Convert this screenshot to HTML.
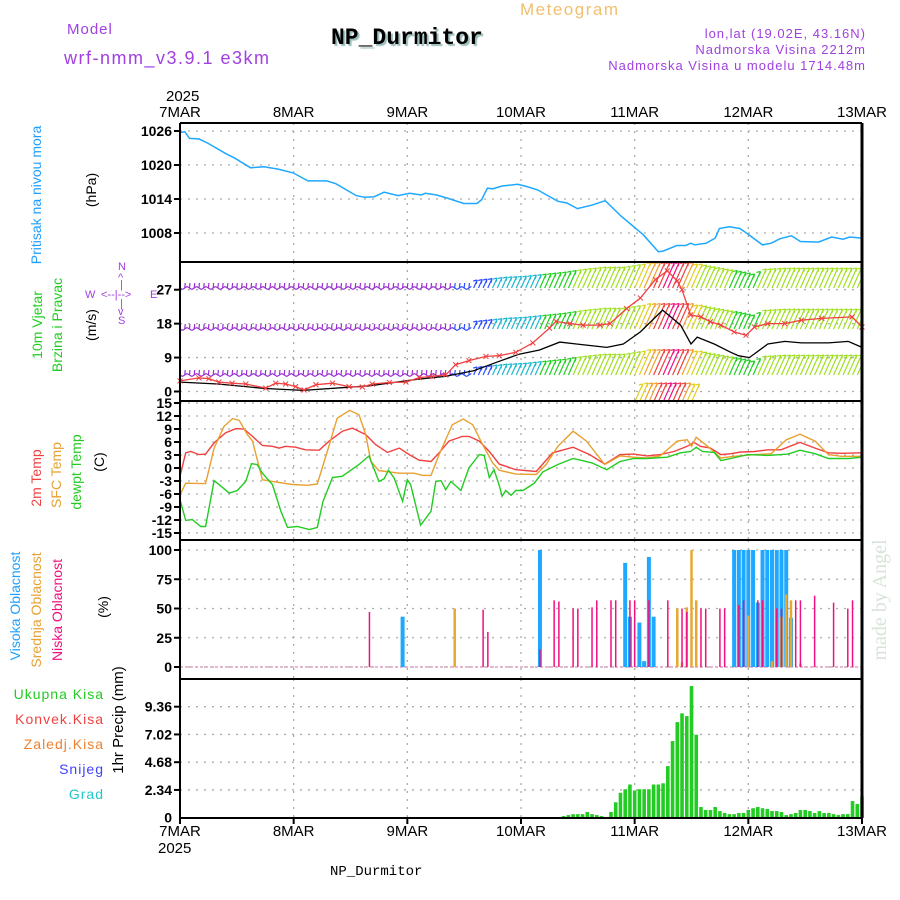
<!DOCTYPE html>
<html><head><meta charset="utf-8"><style>
body{margin:0;background:#fff;width:900px;height:900px;overflow:hidden}
svg{display:block}
text{font-family:"Liberation Sans",sans-serif}
</style></head><body>
<svg id="c" width="900" height="900" xmlns="http://www.w3.org/2000/svg">
<g font-size="15">
<text x="67" y="34" fill="#a040e0" letter-spacing="1">Model</text>
<text x="64" y="64" fill="#a040e0" font-size="18" letter-spacing="1.5">wrf-nmm_v3.9.1 e3km</text>
<text x="520" y="15" fill="#f0c070" font-size="17" letter-spacing="1.5">Meteogram</text>
<text x="331" y="44" style="font-family:'Liberation Mono',monospace;text-shadow:2px 2px 1px #9bb" font-weight="bold" font-size="23" fill="#000">NP_Durmitor</text>
<text x="866" y="38" text-anchor="end" fill="#a040e0" font-size="13" letter-spacing="1">lon,lat (19.02E, 43.16N)</text>
<text x="866" y="54" text-anchor="end" fill="#a040e0" font-size="13" letter-spacing="1">Nadmorska Visina 2212m</text>
<text x="866" y="70" text-anchor="end" fill="#a040e0" font-size="13" letter-spacing="1">Nadmorska Visina u modelu 1714.48m</text>
<text x="166" y="101" font-size="15">2025</text>
</g>
<g id="grid"></g>
<g id="marks"></g>
<g id="frame"></g>
<g font-size="14">
<text transform="translate(41,195) rotate(-90)" text-anchor="middle" fill="#1e9fff">Pritisak na nivou mora</text>
<text transform="translate(96,190) rotate(-90)" text-anchor="middle" fill="#000">(hPa)</text>
<text transform="translate(42,325) rotate(-90)" text-anchor="middle" fill="#22cc22">10m Vjetar</text>
<text transform="translate(62,325) rotate(-90)" text-anchor="middle" fill="#22cc22">Brzina i Pravac</text>
<text transform="translate(96,325) rotate(-90)" text-anchor="middle" fill="#000">(m/s)</text>
<g fill="#a040e0" font-size="11">
<text x="118" y="270">N</text><text x="118" y="281">^</text><text x="120" y="288">|</text>
<text x="85" y="298">W</text><text x="101" y="298">&lt;--|--&gt;</text><text x="150" y="298">E</text>
<text x="120" y="307">|</text><text x="118" y="315">v</text><text x="118" y="324">S</text>
</g>
<text transform="translate(41,478) rotate(-90)" text-anchor="middle" fill="#f04040">2m Temp</text>
<text transform="translate(61,475) rotate(-90)" text-anchor="middle" fill="#e8a030">SFC Temp</text>
<text transform="translate(81,472) rotate(-90)" text-anchor="middle" fill="#22cc22">dewpt Temp</text>
<text transform="translate(104,462) rotate(-90)" text-anchor="middle" fill="#000">(C)</text>
<text transform="translate(20,606) rotate(-90)" text-anchor="middle" fill="#1e9fff">Visoka Oblacnost</text>
<text transform="translate(41,610) rotate(-90)" text-anchor="middle" fill="#e8a030">Srednja Oblacnost</text>
<text transform="translate(62,610) rotate(-90)" text-anchor="middle" fill="#f01080">Niska Oblacnost</text>
<text transform="translate(108,607) rotate(-90)" text-anchor="middle" fill="#000">(%)</text>
<g text-anchor="end" font-size="14" letter-spacing="1">
<text x="104" y="699" fill="#22cc22">Ukupna  Kisa</text>
<text x="104" y="724" fill="#f04040">Konvek.Kisa</text>
<text x="104" y="749" fill="#f08030">Zaledj.Kisa</text>
<text x="104" y="774" fill="#4040ff">Snijeg</text>
<text x="104" y="799" fill="#20c8c8">Grad</text>
</g>
<text transform="translate(123,720) rotate(-90)" text-anchor="middle" fill="#000" font-size="15">1hr Precip (mm)</text>
</g>
<text transform="translate(886,600) rotate(-90)" text-anchor="middle" fill="#d8e4d8" style="font-family:'Liberation Serif',serif" font-size="20">made by Angel</text>
<text x="330" y="875" style="font-family:'Liberation Mono',monospace" font-size="14">NP_Durmitor</text>
<text x="158" y="853" font-size="15">2025</text>
</svg>
<script>
const dayLabels=["7MAR","8MAR","9MAR","10MAR","11MAR","12MAR","13MAR"];
const pTicks=[1008,1014,1020,1026];
const wTicks=[0,9,18,27];
const tTicks=[15,12,9,6,3,0,-3,-6,-9,-12,-15];
const cTicks=[0,25,50,75,100];
const rTicks=[2.34,4.68,7.02,9.36];
const pHours=[0,1,2,4,6,9.7,11.6,14.9,17.7,20.6,23.9,27,31,32.9,37.2,39,41,43.1,46,48.5,50.9,51.8,54.2,56.6,59.9,62.7,63.7,64.9,66,68,71.3,73.2,75.5,79.8,81.7,83.9,86.9,89.8,93.1,97.8,101,102,104.9,106.8,107.8,108.7,111.1,113,113.9,116,118.2,119.6,123,124.8,126.7,129.1,131,134.8,137.6,140,141.4,144];
const pressure=[1025.7,1025.9,1024.7,1024.6,1023.8,1022,1021.2,1019.5,1019.7,1019.3,1018.6,1017.2,1017.2,1016.7,1014.6,1014.3,1014.4,1015.2,1014.6,1015,1014.7,1015,1014.7,1014.1,1013.2,1013.2,1013.9,1015.9,1015.8,1016.3,1016.6,1016.2,1015.6,1013.6,1013.3,1012.3,1012.9,1013.7,1011,1007.7,1004.7,1004.8,1005.8,1005.8,1006.2,1005.9,1006.2,1007.1,1008.8,1009.1,1008.8,1008,1005.9,1006.2,1007,1007.5,1006.5,1006.4,1007.3,1006.9,1007.3,1007.1];
const gustHours=[0,4,6.1,8.2,11,13.9,18.1,20.2,22.3,24.4,26.2,28.7,32.2,35.7,38.5,40.6,44.2,47.7,50.5,53.3,56.1,58.2,61,64.6,67.4,70.9,74.5,78,79.4,82.3,85.1,88.7,90.8,94.3,97.2,100.4,102.9,105,106,107.8,110,112,114.2,117,119.5,121.3,124.1,127.7,131.2,135.5,141.9,144];
const gust=[2.8,3.6,3.4,2.5,2.2,2,0.9,2.2,2,1.3,0.4,1.8,2.2,1.3,1.2,2,2.4,2.5,3.7,4,4.4,7.1,8.2,9.3,9.5,10.4,12.9,16.8,18.6,18,17.6,17.6,18,22,24.8,29.7,32,29.3,27,20.3,19.8,18.5,17.6,15.8,14.9,17.1,18,18,18.9,19.4,19.8,17.1];
const spdHours=[0,8,18,26,40,50,56,62,67.4,71.6,75.9,80.2,83.7,90.1,93.6,97.2,101.9,105.7,107.9,109.2,112.8,116.3,117.9,120.2,124.1,127.7,131.2,136.9,141.1,144];
const speed=[2.5,2,0.8,0.3,1.5,3.2,4,5.5,8,9.9,11,13.1,12.6,11.7,12.6,15.8,21.6,17.6,12.6,14.4,12.6,10.4,9.5,9,12.6,13.3,12.9,12.9,13.3,11.7];
const barbHours=[0,12,24,36,48,56,60,64,68,72,76,80,84,88,92,96,100,103,106,107,108,110,114,118,120,122,126,130,136,144];
const barbSpeed=[2,2,1.5,1.5,2,2.5,3.5,4.5,5.5,6,7,8,9.5,10.5,10.5,12,17,22,15,12,12,11,9.5,8,7,9.5,10,10,10,10];
const tHours=[0,1.2,2.3,4,5.4,7.2,9.6,11.8,13.5,15.3,17.4,19.5,20.9,22.3,24.4,26.5,29.4,31.5,34.3,36.4,39.2,41.3,43.8,46.3,48.4,50.5,53,54.7,56.8,59.6,61,63.2,65.3,67.4,70.9,75.2,78.7,83,86.5,89.7,92.9,95.8,98.6,101.4,104.3,107.1,108.5,109.9,112,114.2,116.3,118.5,121.3,124.1,126.9,130.9,134.1,136.9,139.7,144];
const temp2m=[-1.9,3.5,3.8,3.1,3.2,5.8,8.1,9.1,9,7.3,5.2,5,4.6,5,4.8,4.2,4.1,6.2,8.5,9.2,7.7,5.4,3.6,4.6,3.1,1.8,1.5,3.5,6.2,7.3,7.3,6.2,3.8,0.9,-0.4,-0.8,3.5,4.8,3.1,0.9,3.1,3.2,2.8,3.1,3.8,5,5.9,5,4.6,3.1,3.3,3.7,3.8,4.2,4.2,5.9,4.6,3.5,3.4,3.5];
const sHours=[0,1.2,4.7,5.4,7.2,9.3,11.1,12.5,14.2,15.3,17.4,19.5,23.7,26.9,29,31.1,33.2,35.8,37.8,39.2,40.3,42,46.3,49.4,51.2,53,54.7,57.5,59.8,61.8,63.9,66,67.4,70.9,75.2,77.3,79.8,83,85.8,89.7,92.9,95.8,98.6,101.4,105,107.1,108,109,111.4,114.2,117,121.3,124.8,128,130.9,134.1,136.9,139.7,144];
const tempSfc=[-6.2,-3.5,-3.6,-3.6,4.6,9.6,11.4,11,7.7,6.2,-2.7,-3.1,-3.8,-4,-3.7,3.8,11.5,13.3,12.3,7.7,1.5,-0.6,-1.2,-1.2,-1.7,-1.7,3.1,10,11.3,10,5.4,1.2,-0.5,-1.4,-1.5,0.8,5,8.5,6.2,0.8,2.8,2.5,2.3,2.8,6.2,6.5,5,7.1,5,2.3,2.7,3.1,3.3,6.5,7.8,6.2,3.1,2.7,2.7];
const dHours=[0,1.2,2.6,4.4,5.4,7.2,10.4,12.1,13.9,15.1,16.3,17.4,19.5,21.3,22.7,24.8,27.3,29,30.2,32.2,34.3,37.8,39.9,42,43.1,44,45.2,47,48,48.7,50.8,53,54,55.1,56.1,57.2,59.3,61,63.2,64.2,65.3,66.3,67.4,68,68.8,69.9,70.9,72.4,74.8,76.6,79.8,83,86.9,90.1,92.9,95.8,98.6,102.9,105.7,107.8,109,110.3,112.8,114.2,116.3,119.9,124.1,128.4,130.9,134.1,136.9,141.2,144];
const dewpt=[-7.3,-12.1,-11.9,-13.5,-13.5,-2.9,-5.8,-5.2,-3.1,1,0.8,-1.2,-3.8,-10,-13.7,-13.5,-14.2,-13.7,-7.7,-2.2,-1.9,0.8,2.8,-3.1,-2.5,-0.5,-2.3,-7.7,-2.7,-3.8,-13.2,-10,-3.1,-2.9,-5,-3.1,-5.2,0,3.1,2.9,-2.2,-0.4,-4,-6.5,-5.2,-6.3,-5.2,-5.2,-3.5,-0.9,0.8,2.2,1.2,-0.4,1.5,2.2,2.2,2.5,3.5,3.8,4.8,3.8,3.6,1.7,2.2,3.1,2.9,3.2,4.1,3.3,2.2,2.2,2.5];
const highHours=[47,76,94,95,97,98,99,100,117,118,119,120,121,122,123,124,125,126,127,128,129];
const highCloud=[43,100,89,43,38,5,94,43,100,100,100,100,100,55,100,100,100,100,100,100,42];
const midHours=[58,105,106,107,108,109,120,125,127,128,129,131];
const midCloud=[50,50,4,51,100,57,44,5,43,62,57,3];
const lowHours=[40,64,65,76,79,80,83,84,87,88,91,92,95,96,99,103,106,107,110,111,114,115,118,119,122,123,126,127,130,131,134,138,141,142];
const lowCloud=[47,49,30,15,57,56,50,50,51,57,57,57,57,57,57,57,50,47,50,50,50,50,53,57,57,57,50,50,57,57,61,55,50,57];
const precipHours=[81,82,83,84,85,86,87,88,89,90,91,92,93,94,95,96,97,98,99,100,101,102,103,104,105,106,107,108,109,110,111,112,113,114,115,116,117,118,119,120,121,122,123,124,125,126,127,128,129,130,131,132,133,134,135,136,137,138,139,140,141,142,143,144];
const precip=[0.14,0.22,0.3,0.3,0.3,0.48,0.3,0.22,0.14,0,0.48,1.3,2.1,2.4,2.8,2.3,2.4,2.4,2.4,2.8,2.8,2.9,4.35,6.46,8.06,8.8,8.57,11.1,7.0,0.9,0.65,0.65,0.9,0.56,0.4,0.3,0.3,0.4,0.4,0.65,0.8,0.9,0.8,0.73,0.56,0.56,0.48,0.22,0.3,0.4,0.65,0.65,0.56,0.4,0.56,0.4,0.4,0.3,0.22,0.3,0.3,1.4,1.15,1.8];

const NS="http://www.w3.org/2000/svg";
const X0=180,X1=862;
const xs=h=>X0+h*(X1-X0)/144;
const yP=v=>131+(1026-v)*34/6;
const yW=v=>391.5-v*3.77;
const yT=v=>468-v*4.333;
const yC=v=>667-v*1.17;
const yR=v=>817.7-v*11.86;
const panels=[[123,262],[262,401],[401,540],[540,679],[679,818]];
function el(parent,tag,attrs){const e=document.createElementNS(NS,tag);for(const k in attrs)e.setAttribute(k,attrs[k]);parent.appendChild(e);return e;}
const grid=document.getElementById('grid'),marks=document.getElementById('marks'),frame=document.getElementById('frame');
const dot={stroke:"#aaa","stroke-width":1.3,"stroke-dasharray":"2 6"};
dayLabels.forEach((d,i)=>{const x=xs(i*24);
 panels.forEach(p=>{const l=el(grid,'line',Object.assign({x1:x,x2:x,y1:p[0],y2:p[1]},dot));});
 const t=el(frame,'text',{x:x,y:117,"text-anchor":"middle","font-size":15});t.textContent=d;
 
 const b=el(frame,'text',{x:x,y:836,"text-anchor":"middle","font-size":15});b.textContent=d;
 
 el(frame,'line',{x1:x,x2:x,y1:818,y2:824,stroke:"#000","stroke-width":2});
});
function yTicks(arr,f,fmt){arr.forEach(v=>{const y=f(v);
 const g=el(grid,'line',Object.assign({x1:X0,x2:X1,y1:y,y2:y},dot));
 el(frame,'line',{x1:X0-6,x2:X0,y1:y,y2:y,stroke:"#000","stroke-width":2});
 const t=el(frame,'text',{x:X0-8,y:y+5,"text-anchor":"end","font-size":14,"font-weight":"bold"});t.textContent=fmt?fmt(v):v;
 });}
yTicks(pTicks,yP);yTicks(wTicks,yW);yTicks(tTicks,yT);yTicks(cTicks,yC);yTicks(rTicks,yR,v=>v.toFixed(2));
{const t=el(frame,'text',{x:X0-8,y:yR(0)+5,"text-anchor":"end","font-size":14,"font-weight":"bold"});t.textContent="0";}
function line(hs,vs,f,color,name,w){const d=hs.map((h,i)=>(i?'L':'M')+xs(h).toFixed(1)+','+f(vs[i]).toFixed(1)).join('');
 const p=el(marks,'path',{d:d,fill:"none",stroke:color,"stroke-width":w||1.4});return p;}
line(pHours,pressure,yP,"#1ea8ff","pressure-line",1.5);
function interp(hs,vs,h){for(let i=1;i<hs.length;i++){if(h<=hs[i]){const t=(h-hs[i-1])/(hs[i]-hs[i-1]);return vs[i-1]+t*(vs[i]-vs[i-1]);}}return vs[vs.length-1];}
const cstops=[[0,[155,48,208]],[3,[48,80,255]],[5,[32,184,208]],[7,[32,208,32]],[9,[160,224,32]],[12,[224,208,32]],[14,[240,160,48]],[17,[240,64,64]],[20,[240,16,128]]];
function col(s){let c=cstops[0][1];for(const st of cstops)if(s>=st[0])c=st[1];return 'rgb('+c.join(',')+')';}
const cp=el(marks,'clipPath',{id:'wclip'});el(cp,'rect',{x:X0,y:262,width:X1-X0,height:139});
const wg=el(marks,'g',{"clip-path":"url(#wclip)"});
const rows=[[288,1.0],[329,1.0],[375,1.0],[402,0.75]];
for(let h=0;h<=144;h++){const s=interp(barbHours,barbSpeed,h);const x=xs(h);const c=col(s);
 rows.forEach((r,ri)=>{
  if(ri===3&&s<12)return;
  if(s<4){const dy=(h%2)?3:-3;const b=el(wg,'path',{d:`M${x-2.4},${r[0]+dy/2}L${x+2.4},${r[0]-dy/2}M${x},${r[0]}L${x+0.5},${r[0]-5}`,stroke:c,"stroke-width":1.2,fill:"none"});return;}
  const L=Math.min(28,s*2.2)*r[1];const a=0.42;
  const x2=x+L*Math.sin(a),y2=r[0]-L*Math.cos(a);
  const b=el(wg,'path',{d:`M${x.toFixed(1)},${r[0]}L${x2.toFixed(1)},${y2.toFixed(1)}M${x2.toFixed(1)},${y2.toFixed(1)}l-4,1M${x2.toFixed(1)},${y2.toFixed(1)}l-1,4`,stroke:c,"stroke-width":1.2,fill:"none"});
  });}
line(spdHours,speed,yW,"#000","wind-speed-line",1.3);
line(gustHours,gust,yW,"#f04040","gust-line",1.3);
gustHours.forEach((h,i)=>{const x=xs(h),y=yW(gust[i]);const m=el(marks,'path',{d:`M${x-2.5},${y-2.5}L${x+2.5},${y+2.5}M${x-2.5},${y+2.5}L${x+2.5},${y-2.5}`,stroke:"#f04040","stroke-width":1});});
line(tHours,temp2m,yT,"#f04040","temp-2m-line");
line(sHours,tempSfc,yT,"#e8a030","temp-sfc-line");
line(dHours,dewpt,yT,"#22cc22","dewpoint-line");
el(marks,'line',{x1:X0,x2:X1,y1:667,y2:667,stroke:"#e0a0c0","stroke-width":1.5,"stroke-dasharray":"3 2"});
function bars(hs,vs,f,color,w,name){hs.forEach((h,i)=>{const y=f(vs[i]),y0=f(0);const r=el(marks,'rect',{x:xs(h)-w/2,y:y,width:w,height:Math.max(0,y0-y),fill:color});});}
bars(highHours,highCloud,yC,"#1ea8ff",4,"high-cloud-bar");
bars(midHours,midCloud,yC,"#e8a830",2.5,"mid-cloud-bar");
bars(lowHours,lowCloud,yC,"#f01080",1.5,"low-cloud-bar");
bars(precipHours,precip,yR,"#22cc22",3.6,"precip-bar");
panels.forEach(p=>{el(frame,'line',{x1:X0,x2:X1,y1:p[0],y2:p[0],stroke:"#000","stroke-width":2});});
el(frame,'line',{x1:X0,x2:X1,y1:818,y2:818,stroke:"#000","stroke-width":2});
el(frame,'line',{x1:X0,x2:X0,y1:123,y2:818,stroke:"#000","stroke-width":2});
el(frame,'line',{x1:X1,x2:X1,y1:123,y2:818,stroke:"#000","stroke-width":3});
</script>
</body></html>
